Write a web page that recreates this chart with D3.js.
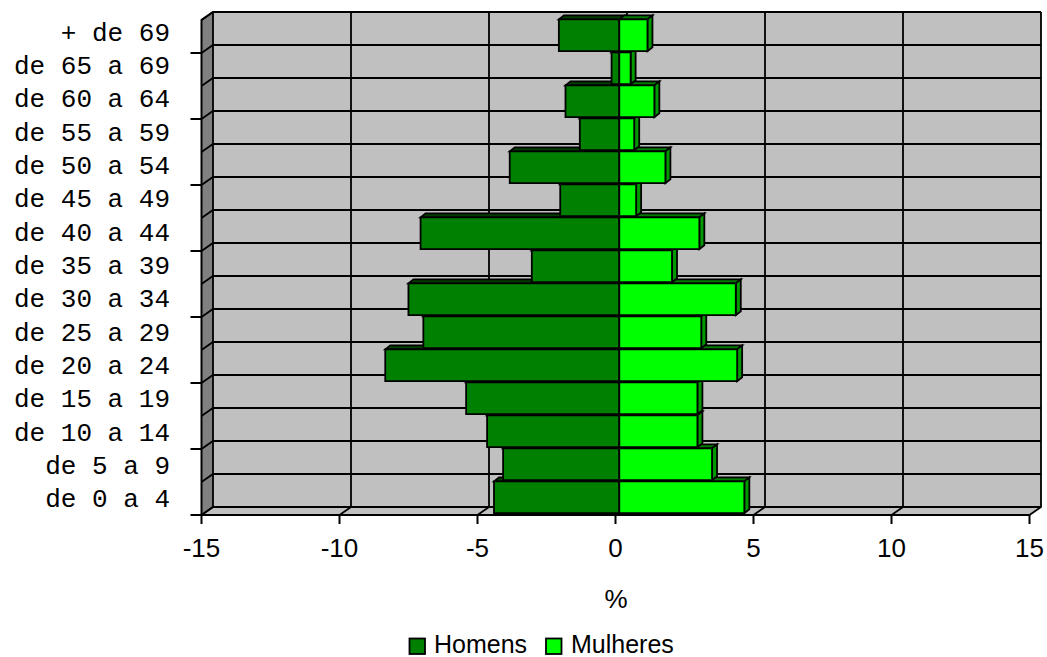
<!DOCTYPE html>
<html>
<head>
<meta charset="utf-8">
<script src="https://cdn.jsdelivr.net/npm/d3@7"></script>
<style>
  html, body { margin: 0; padding: 0; background: #ffffff; }
  svg { display: block; }
</style>
</head>
<body>
<svg id="chart" width="1047" height="657"></svg>
<script>
// Age groups, oldest at the top
const ageGroups = ["+ de 69", "de 65 a 69", "de 60 a 64", "de 55 a 59", "de 50 a 54",
  "de 45 a 49", "de 40 a 44", "de 35 a 39", "de 30 a 34", "de 25 a 29",
  "de 20 a 24", "de 15 a 19", "de 10 a 14", "de 5 a 9", "de 0 a 4"];
// Percent of population per age group (men drawn to the left)
const homens = [-2.19, -0.28, -1.95, -1.43, -3.97, -2.14, -7.2, -3.17, -7.64, -7.10,
  -8.48, -5.55, -4.79, -4.21, -4.54];
const mulheres = [1.02, 0.41, 1.27, 0.54, 1.67, 0.61, 2.90, 1.91, 4.22, 2.97,
  4.27, 2.83, 2.83, 3.36, 4.53];
const xTicks = [-15, -10, -5, 0, 5, 10, 15];
const seriesNames = ["Homens", "Mulheres"];

const svg = d3.select("#chart");

// front plane scales
const x = d3.scaleLinear().domain([-15, 15]).range([201.5, 1029.5]);
const y = d3.scaleBand().domain(ageGroups).range([20, 515]).padding(0);
const labelY = d3.scaleBand().domain(ageGroups).range([15.8, 515.5]).padding(0);

// depth of the chart walls and of the bars
const wall = { dx: 11.5, dy: -8 };
const bar = { ox: 3.8, oy: -0.6, dx: 5, dy: -4 };

const colors = {
  wall: "#c0c0c0", side: "#808080",
  homens: "#008000", homensTop: "#003c00",
  mulheres: "#00ff00", mulheresTop: "#007a00", mulheresSide: "#009a00"
};

const poly = pts => "M" + pts.map(p => p.join(",")).join("L") + "Z";
const x0 = x.range()[0], x1 = x.range()[1];
const yTop = y.range()[0], yBot = y.range()[1];

// back wall
svg.append("path")
  .attr("d", poly([[x0 + wall.dx, yTop + wall.dy], [x1 + wall.dx, yTop + wall.dy],
                   [x1 + wall.dx, yBot + wall.dy], [x0 + wall.dx, yBot + wall.dy]]))
  .attr("fill", colors.wall);
// side wall
svg.append("path")
  .attr("d", poly([[x0, yTop], [x0 + wall.dx, yTop + wall.dy],
                   [x0 + wall.dx, yBot + wall.dy], [x0, yBot]]))
  .attr("fill", colors.side);
// floor
svg.append("path")
  .attr("d", poly([[x0, yBot], [x0 + wall.dx, yBot + wall.dy],
                   [x1 + wall.dx, yBot + wall.dy], [x1, yBot]]))
  .attr("fill", colors.wall);

const grid = svg.append("g").attr("stroke", "#000").attr("stroke-width", 1.8).attr("fill", "none");

// horizontal gridlines at group boundaries (back wall + side wall)
const boundaries = ageGroups.map(g => y(g)).concat([yBot]);
boundaries.forEach(b => {
  grid.append("path").attr("d",
    `M${x0},${b}L${x0 + wall.dx},${b + wall.dy}L${x1 + wall.dx},${b + wall.dy}`);
});
// vertical gridlines at value ticks (back wall + floor)
xTicks.forEach(t => {
  grid.append("path").attr("d",
    `M${x(t)},${yBot}L${x(t) + wall.dx},${yBot + wall.dy}L${x(t) + wall.dx},${yTop + wall.dy}`);
});

// bars, drawn from the bottom row upward so upper bars hide lower top faces
const rows = ageGroups.map((g, i) => ({ g, h: homens[i], m: mulheres[i] })).reverse();
const bars = svg.append("g").attr("stroke", "#000").attr("stroke-width", 1.8)
  .attr("stroke-linejoin", "miter");

rows.forEach(r => {
  const top = y(r.g) + bar.oy;
  const bottom = top + y.bandwidth() - 1.2;
  const xz = x(0) + bar.ox;
  const xh = x(r.h) + bar.ox;
  const xm = x(r.m) + bar.ox;
  const row = bars.append("g");

  // Homens: top face, front face
  row.append("path").attr("fill", colors.homensTop)
    .attr("d", poly([[xh, top], [xh + bar.dx, top + bar.dy], [xz + bar.dx, top + bar.dy], [xz, top]]));
  row.append("path").attr("fill", colors.homens)
    .attr("d", poly([[xh, top], [xz, top], [xz, bottom], [xh, bottom]]));

  // Mulheres: top face, side face, front face
  row.append("path").attr("fill", colors.mulheresTop)
    .attr("d", poly([[xz, top], [xz + bar.dx, top + bar.dy], [xm + bar.dx, top + bar.dy], [xm, top]]));
  row.append("path").attr("fill", colors.mulheresSide)
    .attr("d", poly([[xm, top], [xm + bar.dx, top + bar.dy], [xm + bar.dx, bottom + bar.dy], [xm, bottom]]));
  row.append("path").attr("fill", colors.mulheres)
    .attr("d", poly([[xz, top], [xm, top], [xm, bottom], [xz, bottom]]));
});

// value axis along the front of the floor
const axisG = svg.append("g").attr("stroke", "#000").attr("stroke-width", 2).attr("fill", "none");
axisG.append("path").attr("d", `M${x0},${yBot}L${x1},${yBot}`);
xTicks.forEach(t => axisG.append("path").attr("d", `M${x(t)},${yBot}L${x(t)},${yBot + 9}`));
// category axis along the front of the side wall
axisG.append("path").attr("d", `M${x0 + wall.dx},${yTop + wall.dy}L${x0},${yTop}L${x0},${yBot}`);
boundaries.filter((b, i) => (boundaries.length - 1 - i) % 2 === 0)
  .forEach(b => axisG.append("path").attr("d", `M${x0 - 11},${b}L${x0},${b}`));

// tick labels
svg.append("g").selectAll("text").data(xTicks).join("text")
  .attr("x", d => x(d)).attr("y", 557)
  .attr("text-anchor", "middle")
  .attr("font-family", "'Liberation Sans', Arial, sans-serif")
  .attr("font-size", 26).attr("fill", "#000")
  .text(d => d);

svg.append("g").selectAll("text").data(ageGroups).join("text")
  .attr("x", 170).attr("y", d => labelY(d) + labelY.bandwidth() / 2)
  .attr("dy", "0.32em")
  .attr("text-anchor", "end")
  .attr("font-family", "'Liberation Mono', 'Courier New', monospace")
  .attr("font-size", 26).attr("fill", "#000")
  .text(d => d);

// axis title
svg.append("text")
  .attr("x", 616).attr("y", 608)
  .attr("text-anchor", "middle")
  .attr("font-family", "'Liberation Sans', Arial, sans-serif")
  .attr("font-size", 26).attr("fill", "#000")
  .text("%");

// legend
const legendItems = [
  { name: seriesNames[0], color: colors.homens, sx: 409.5, tx: 434 },
  { name: seriesNames[1], color: colors.mulheres, sx: 546, tx: 571 }
];
const legend = svg.append("g");
legendItems.forEach(it => {
  legend.append("rect").attr("x", it.sx).attr("y", 638.5).attr("width", 15.5).attr("height", 15.5)
    .attr("fill", it.color).attr("stroke", "#000").attr("stroke-width", 1.8);
  legend.append("text").attr("x", it.tx).attr("y", 653)
    .attr("font-family", "'Liberation Sans', Arial, sans-serif")
    .attr("font-size", 25).attr("fill", "#000")
    .text(it.name);
});
</script>
</body>
</html>
